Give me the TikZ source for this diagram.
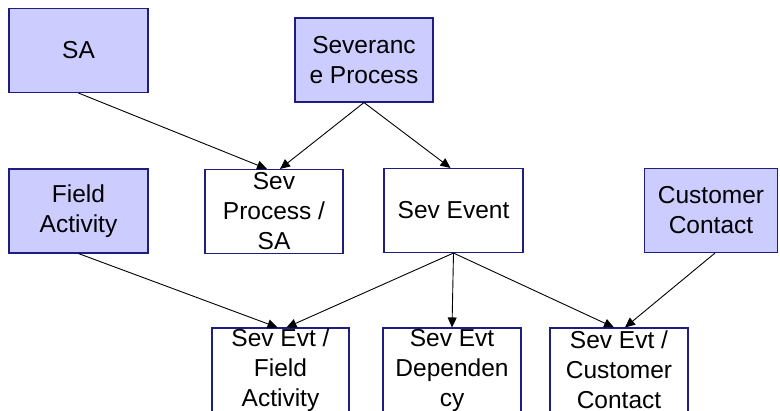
\documentclass[tikz,border=0pt]{standalone}
\usepackage{fontspec}
\setmainfont{Liberation Sans}
\usepackage{tikz}
\usetikzlibrary{arrows.meta,positioning}
\definecolor{boxblue}{RGB}{204,204,255}
\definecolor{edgeblue}{RGB}{30,30,130}

\begin{document}
\begin{tikzpicture}[x=1pt,y=-1pt,>={Triangle[length=10pt,width=9pt]},
    entity/.style={draw=edgeblue,line width=1.1pt,fill=boxblue,minimum width=139pt,
      minimum height=84pt,inner sep=0pt,align=center,font=\fontsize{24.5}{30}\selectfont},
    detail/.style={entity,fill=white},
    link/.style={->,line width=0.9pt}]
        \useasboundingbox (0,0) rectangle (780,411);
        \clip (0,0) rectangle (780,411);
        % top row
        \node[entity] (sa) at (78.5,50.5) {SA};
        \node[entity,minimum width=138pt] (sevproc) at (364,60) {Severanc\\e Process};
        % middle row
        \node[entity] (field) at (78.5,211) {Field\\Activity};
        \node[detail,minimum width=138pt] (procsa) at (274,211.5) {Sev\\Process /\\SA};
        \node[detail] (event) at (453.5,210.5) {Sev Event};
        \node[entity,minimum width=133pt] (contact) at (711,210.5) {Customer\\Contact};
        % bottom row
        \node[detail,minimum width=137pt] (evtfield) at (280.5,370) {Sev Evt /\\Field\\Activity};
        \node[detail,minimum width=138pt] (evtdep) at (452,370) {Sev Evt\\Dependen\\cy};
        \node[detail,minimum width=138pt] (evtcont) at (619,370) {Sev Evt /\\Customer\\Contact};
        \draw[link] (sa.south) -- ([xshift=-7pt]procsa.north);
        \draw[link] (sevproc.south) -- ([xshift=6pt]procsa.north);
        \draw[link] (sevproc.south) -- ([xshift=-3pt]event.north);
        \draw[link] (field.south) -- ([xshift=-3pt]evtfield.north);
        \foreach \dst/\dx in {evtfield/6,evtdep/0,evtcont/-5}{
          \draw[link] (event.south) -- ([xshift=\dx pt]\dst.north);
        }
        \draw[link] ([xshift=4pt]contact.south) -- ([xshift=6pt]evtcont.north);
      \end{tikzpicture}
\end{document}
